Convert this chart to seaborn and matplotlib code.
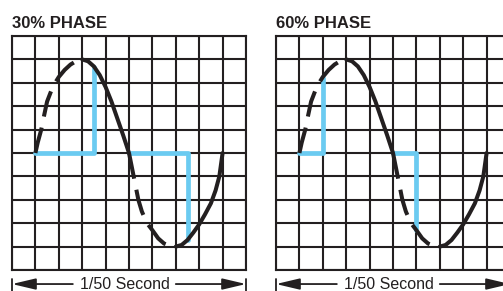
import matplotlib
matplotlib.use("Agg")
import matplotlib.pyplot as plt
import seaborn as sns
import pandas as pd

sns.set_style("white")
plt.rcParams['font.family'] = ['Liberation Sans', 'DejaVu Sans']

INK = '#231f20'
BLUE = '#6bcbf1'

# waveform (x in divisions, y in divisions from centre)
wave_x = [1.0, 1.1, 1.25, 1.35, 1.5, 1.75, 2.0, 2.25, 2.5, 2.75, 3.0,
          3.25, 3.5, 3.75, 4.0, 4.25, 4.5, 4.75, 5.0,
          5.1, 5.2, 5.3, 5.4, 5.55, 5.77, 6.0, 6.25, 6.5, 6.75, 7.0,
          7.25, 7.5, 7.75, 8.0, 8.25, 8.5, 8.7, 8.86, 9.0]
wave_y = [0.0, 0.45, 1.0, 1.5, 2.2, 2.85, 3.25, 3.55, 3.78, 3.93, 4.0,
          3.92, 3.7, 3.33, 2.82, 2.2, 1.48, 0.76, 0.0,
          -0.5, -1.0, -1.5, -2.0, -2.5, -3.0, -3.3, -3.65, -3.87, -3.97, -4.0,
          -3.93, -3.72, -3.4, -3.05, -2.62, -2.15, -1.6, -1.0, 0.0]
# dashed (not conducting) stretches of each half cycle
dashed_spans = [(1.0, 3.0), (5.0, 7.0)]
solid_spans = [(3.0, 5.0), (7.0, 9.0)]

titles = ['30% PHASE', '60% PHASE']
span_label = '1/50 Second'

# conducting output (blue) for each panel
blue_paths = {
    '30% PHASE': [([1.0, 3.5, 3.5], [0.0, 0.0, 3.68]),
                  ([5.0, 7.5, 7.5], [0.0, 0.0, -3.72])],
    '60% PHASE': [([1.0, 2.0, 2.0], [0.0, 0.0, 3.2]),
                  ([5.0, 6.0, 6.0], [0.0, 0.0, -3.28])],
}

wave = pd.DataFrame({'x': wave_x, 'y': wave_y})

W, H = 503, 291
fig = plt.figure(figsize=(W / 100, H / 100), dpi=100)

panel_left = [12, 276]
for i, title in enumerate(titles):
    ax = fig.add_axes([panel_left[i] / W, (H - 270) / H, 234 / W, 234 / H])
    ax.set_xlim(0, 10)
    ax.set_ylim(-5, 5)
    ax.set_xticks(range(11))
    ax.set_yticks(range(-5, 6))
    ax.tick_params(length=0, labelbottom=False, labelleft=False)
    ax.grid(True, color=INK, lw=1.5)
    for s in ax.spines.values():
        s.set_color(INK)
        s.set_linewidth(1.5)

    for bx, by in blue_paths[title]:
        sns.lineplot(x=bx, y=by, ax=ax, color=BLUE, lw=3.4, sort=False,
                     estimator=None, zorder=3)

    for a, b in dashed_spans:
        seg = wave[(wave.x >= a) & (wave.x <= b)]
        sns.lineplot(data=seg, x='x', y='y', ax=ax, color=INK, lw=2.9,
                     sort=False, estimator=None, zorder=4)
        ax.lines[-1].set_dashes([6.5, 2.8])
    for a, b in solid_spans:
        seg = wave[(wave.x >= a) & (wave.x <= b)]
        sns.lineplot(data=seg, x='x', y='y', ax=ax, color=INK, lw=2.9,
                     sort=False, estimator=None, zorder=4)
    ax.set_xlabel('')
    ax.set_ylabel('')

    ax.text(0, 1.033, title, transform=ax.transAxes, ha='left', va='baseline',
            fontsize=12, fontweight='bold', color=INK)

    # 1/50 second span marker
    ya = -0.06
    arrow = dict(arrowstyle='-|>,head_length=0.72,head_width=0.17',
                 mutation_scale=20, color=INK, lw=1.3, shrinkA=0, shrinkB=0)
    ax.annotate('', xy=(0, ya), xytext=(0.26, ya), xycoords='axes fraction',
                arrowprops=arrow, annotation_clip=False)
    ax.annotate('', xy=(1, ya), xytext=(0.70, ya), xycoords='axes fraction',
                arrowprops=arrow, annotation_clip=False)
    for xe in (0, 1):
        ax.plot([xe, xe], [-0.04, -0.12], transform=ax.transAxes, color=INK,
                lw=1.3, clip_on=False)
    ax.text(0.484, -0.083, span_label, transform=ax.transAxes, ha='center',
            va='baseline', fontsize=11.5, color=INK)

fig.savefig('out.png', dpi=100)
